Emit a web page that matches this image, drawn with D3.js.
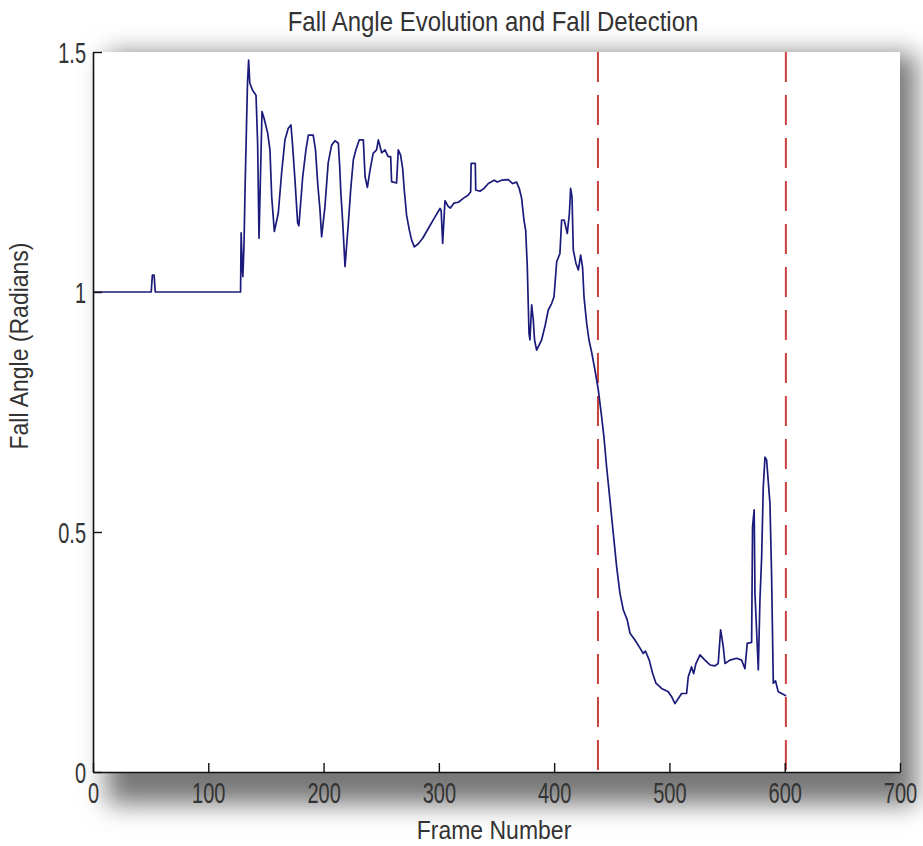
<!DOCTYPE html>
<html>
<head>
<meta charset="utf-8">
<script src="https://cdn.jsdelivr.net/npm/d3@7"></script>
<style>
  html, body { margin: 0; padding: 0; background: #fff; }
  svg { display: block; font-family: "Liberation Sans", Arial, sans-serif; }
</style>
</head>
<body>
<div id="chart"></div>
<script>
// frame numbers and fall angle (radians)
const frames = [
  0, 50.5, 51.5, 53, 54, 128, 128.5, 129.5, 130, 131, 132, 134, 135, 136, 138.5, 141.4,
  142.8, 144, 146.6, 148.6, 151.5, 153.5, 155, 157.3, 160.7, 163.6, 166.5, 169.4, 171.7,
  173, 175.2, 177.5, 178.6, 181.9, 184.7, 186.8, 191, 193, 194.9, 196.9, 198.3, 201.2,
  204, 207, 209.9, 212.8, 214, 215, 216.5, 218.6, 221.4, 223.5, 225.8, 228, 231, 234.5,
  236, 238, 240.3, 243, 246, 247.5, 250.4, 253.3, 256, 258.2, 259, 263.3, 264.8, 266.8,
  268.6, 270, 272, 274.4, 276.4, 278.7, 282, 286, 291.7, 295.8, 301, 302, 303.3, 305.3,
  308.2, 310, 313, 316.9, 321.2, 325.5, 327.6, 328, 331.6, 332, 335.7, 339.2, 342.9, 348,
  350.7, 354.5, 360.2, 364, 367.4, 369.7, 371.8, 373.8, 375.3, 376.7, 377.6, 378.2, 379,
  380.5, 381.9, 383, 384.8, 389.1, 392, 394.9, 397.8, 399.9, 402.2, 405, 406.5, 408.7,
  411.4, 413.2, 414.3, 415.5, 416.6, 418.9, 421, 423, 424.7, 425.9, 428.2, 430.2, 432.5,
  435.4, 438.3, 441.2, 443.2, 445.5, 448.4, 451.3, 454.2, 457.1, 460, 463.4, 465.8, 470.1,
  474.5, 477.3, 479.2, 482.5, 485.4, 488.3, 493.2, 499, 501.9, 504.8, 507.7, 510.6, 514.9,
  516.3, 519.2, 521, 523, 526.5, 530.8, 535.2, 539.5, 542.3, 544.4, 545.5, 546.7, 548.2,
  552.5, 558.3, 562.6, 565.5, 567.5, 571.3, 572.1, 573.5, 574.2, 577.1, 578.5, 580, 581.4,
  582.9, 584.3, 587.2, 588.6, 590.1, 592, 594.4, 600.2, 601
];
const angles = [
  1.0, 1.0, 1.035, 1.035, 1.0, 1.0, 1.123, 1.05, 1.032, 1.10, 1.227, 1.435, 1.483, 1.435, 1.42, 1.41,
  1.31, 1.112, 1.376, 1.36, 1.331, 1.296, 1.199, 1.126, 1.164, 1.248, 1.317, 1.341, 1.348,
  1.31, 1.233, 1.144, 1.138, 1.24, 1.296, 1.327, 1.327, 1.296, 1.226, 1.171, 1.115, 1.178,
  1.269, 1.306, 1.315, 1.31, 1.261, 1.206, 1.15, 1.053, 1.14, 1.2125, 1.275, 1.296, 1.317, 1.317,
  1.24, 1.218, 1.254, 1.289, 1.296, 1.317, 1.29, 1.296, 1.282, 1.282, 1.23, 1.227, 1.296, 1.285,
  1.257, 1.2125, 1.16, 1.129, 1.108, 1.094, 1.1, 1.112, 1.136, 1.153, 1.174, 1.17, 1.101, 1.19,
  1.178, 1.175, 1.185, 1.187, 1.195, 1.202, 1.209, 1.268, 1.268, 1.2125, 1.21, 1.216, 1.226, 1.233,
  1.229, 1.233, 1.234, 1.226, 1.229, 1.216, 1.195, 1.15, 1.129, 1.053, 0.969, 0.914, 0.90,
  0.973, 0.942, 0.90, 0.879, 0.9, 0.928, 0.9625, 0.976, 0.99, 1.063, 1.08, 1.15, 1.15,
  1.122, 1.163, 1.216, 1.198, 1.0875, 1.06, 1.046, 1.077, 1.05, 0.99, 0.935, 0.9, 0.875,
  0.8375, 0.796, 0.74, 0.698, 0.636, 0.567, 0.497, 0.428, 0.372, 0.3375, 0.317, 0.289, 0.275,
  0.258, 0.247, 0.252, 0.233, 0.2056, 0.185, 0.174, 0.167, 0.157, 0.1425, 0.153, 0.1635, 0.1635,
  0.198, 0.219, 0.205, 0.226, 0.244, 0.233, 0.223, 0.221, 0.226, 0.296, 0.28, 0.261, 0.226,
  0.233, 0.237, 0.233, 0.2153, 0.268, 0.27, 0.511, 0.546, 0.372, 0.2125, 0.358, 0.448, 0.594,
  0.656, 0.65, 0.559, 0.413, 0.185, 0.19, 0.167, 0.16, 0.158
];
// frames where a fall was detected (dashed markers)
const detections = [438, 601];
const xTicks = [0, 100, 200, 300, 400, 500, 600, 700];
const yTicks = [0, 0.5, 1, 1.5];

const width = 923;
const height = 846;
const margin = { top: 52, right: 23, bottom: 74, left: 93 };

const svg = d3
  .select("#chart")
  .append("svg")
  .attr("width", width)
  .attr("height", height)
  .attr("viewBox", [0, 0, width, height]);

const x = d3.scaleLinear().domain([0, 700]).range([margin.left, width - margin.right]);
const y = d3.scaleLinear().domain([0, 1.5]).range([height - margin.bottom, margin.top]);

// blurred gray box under the axes area, like the photo-style shadow
const defs = svg.append("defs");
defs
  .append("filter")
  .attr("id", "blur")
  .attr("x", "-20%")
  .attr("y", "-20%")
  .attr("width", "140%")
  .attr("height", "140%")
  .append("feGaussianBlur")
  .attr("stdDeviation", 13);

svg
  .append("rect")
  .attr("x", x(0) + 14)
  .attr("y", y(1.5) + 2)
  .attr("width", x(700) - x(0) + 2)
  .attr("height", y(0) - y(1.5) + 30)
  .attr("fill", "#777")
  .attr("filter", "url(#blur)");

svg
  .append("rect")
  .attr("x", x(0))
  .attr("y", y(1.5))
  .attr("width", x(700) - x(0))
  .attr("height", y(0) - y(1.5))
  .attr("fill", "#fff");

// fall detection markers
svg
  .selectAll(".detect")
  .data(detections)
  .join("line")
  .attr("class", "detect")
  .attr("x1", (d) => x(d))
  .attr("x2", (d) => x(d))
  .attr("y1", y(1.5))
  .attr("y2", y(0))
  .attr("stroke", "#c8403c")
  .attr("stroke-width", 2)
  .attr("stroke-dasharray", "30,13");

const line = d3
  .line()
  .x((d, i) => x(frames[i]))
  .y((d) => y(d));

svg
  .append("path")
  .datum(angles)
  .attr("fill", "none")
  .attr("stroke", "#1b1b7c")
  .attr("stroke-width", 1.7)
  .attr("stroke-linejoin", "round")
  .attr("d", line);

// axes: ticks point inwards, no box
const xAxis = svg
  .append("g")
  .attr("transform", `translate(0,${y(0)})`)
  .call(d3.axisBottom(x).tickValues(xTicks).tickSize(-9).tickSizeOuter(0).tickFormat(d3.format("d")));
const yAxis = svg
  .append("g")
  .attr("transform", `translate(${x(0)},0)`)
  .call(d3.axisLeft(y).tickValues(yTicks).tickSize(-9).tickSizeOuter(0).tickFormat((d) => String(d)));

svg.selectAll(".domain").attr("stroke", "#111").attr("stroke-width", 1.6);
svg.selectAll(".tick line").attr("stroke", "#111").attr("stroke-width", 1.4);
svg
  .selectAll(".tick text")
  .attr("fill", "#333")
  .attr("font-size", 20)
  .attr("font-family", "'Liberation Sans', Arial, sans-serif");

// stretch tick labels vertically like the original
xAxis
  .selectAll(".tick text")
  .attr("y", 0)
  .attr("dy", 0)
  .attr("transform", "translate(0,31) scale(1,1.45)");
yAxis
  .selectAll(".tick text")
  .attr("x", 0)
  .attr("dy", 0)
  .attr("transform", "translate(-7,10) scale(1,1.45)");

svg
  .append("text")
  .attr("transform", `translate(493,31) scale(1,1.12)`)
  .attr("text-anchor", "middle")
  .attr("font-size", 24)
  .attr("fill", "#333")
  .text("Fall Angle Evolution and Fall Detection");

svg
  .append("text")
  .attr("transform", `translate(494,839) scale(1,1.12)`)
  .attr("text-anchor", "middle")
  .attr("font-size", 23)
  .attr("fill", "#333")
  .text("Frame Number");

svg
  .append("text")
  .attr("transform", `translate(28,346) rotate(-90) scale(1,1.12)`)
  .attr("text-anchor", "middle")
  .attr("font-size", 23)
  .attr("fill", "#333")
  .text("Fall Angle (Radians)");
</script>
</body>
</html>
